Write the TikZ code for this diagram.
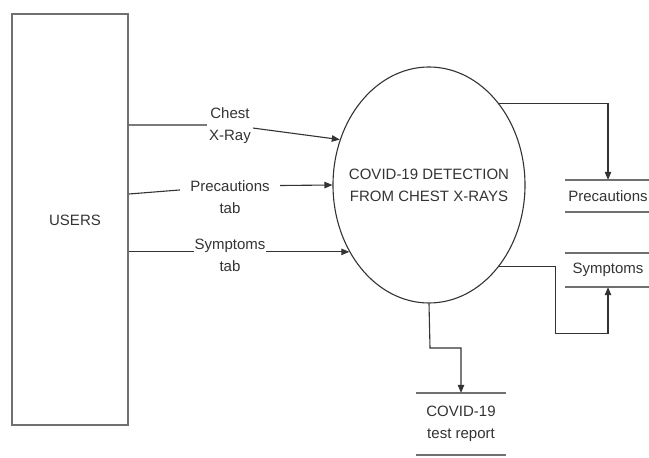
\documentclass[tikz,border=0pt]{standalone}
\usepackage{fontspec}
\setmainfont{Liberation Sans}
\usetikzlibrary{shapes.geometric,arrows.meta,calc}
\definecolor{ink}{HTML}{333333}
\definecolor{boxline}{HTML}{707070}
\tikzset{
  every node/.style={font=\fontsize{15bp}{22bp}\selectfont, text=ink},
  flow/.style={draw=ink, line width=1.1bp, -{Triangle[length=8bp,width=6.5bp]}},
  lbl/.style={fill=white, inner sep=2bp, align=center},
  storebox/.style={inner sep=0pt, align=center},
  storeline/.style={draw=boxline, line width=1.6bp},
}
\begin{document}
\begin{tikzpicture}[x=1bp, y=-1bp]
\useasboundingbox (0,0) rectangle (649,458);
% entities
\node[draw=boxline, line width=1.8bp, minimum width=116bp, minimum height=411bp, inner sep=0pt] (users) at (70,219.5) {};
\node at (75,220) (userstext) {USERS};
\node[ellipse, draw=ink, line width=1.1bp, minimum width=192bp, minimum height=236bp, inner sep=0pt] (proc) at (429,185) {};
\node[align=center] (proctext) at (proc.center) {COVID-19 DETECTION\\FROM CHEST X-RAYS};
% data stores
\node[storebox, minimum width=86bp, minimum height=32bp] (ps) at (608,196) {Precautions};
\node[storebox, minimum width=86bp, minimum height=34bp] (ss) at (608,270) {Symptoms};
\node[storebox, minimum width=90bp, minimum height=62bp] (tr) at (461,424) {COVID-19\\test report};
\draw[storeline] (ps.north west) -- (ps.north east) (ps.south west) -- (ps.south east);
\draw[storeline] (ss.north west) -- (ss.north east) (ss.south west) -- (ss.south east);
\draw[storeline] (tr.north west) -- (tr.north east) (tr.south west) -- (tr.south east);
% bends
\coordinate (b1) at (230,125);
\coordinate (b2) at (230,186);
\coordinate (b3) at (555.5,333.5);
\coordinate (b4) at (430,348);
% input flows
\draw[flow] (users.east |- b1) -- (b1) -- (proc.153.7);
\draw[flow] (users.east |- 0,194) -- (b2) -- (proc.west);
\draw[flow] (users.east |- proc.220) -- (proc.220);
\node[lbl] (l1) at (230,126) {Chest\\X-Ray};
\node[lbl, inner xsep=10bp] (l2) at (230,197) {Precautions\\tab};
\node[lbl, inner xsep=1bp] (l3) at (230,255) {Symptoms\\tab};
% output flows
\draw[flow] (proc.49.5) -| (ps.north);
\draw[flow] (proc.-49.5) -| (b3) -| (ss.south);
\draw[flow] (proc.south) -- (b4) -| (tr.north);
\end{tikzpicture}
\end{document}
